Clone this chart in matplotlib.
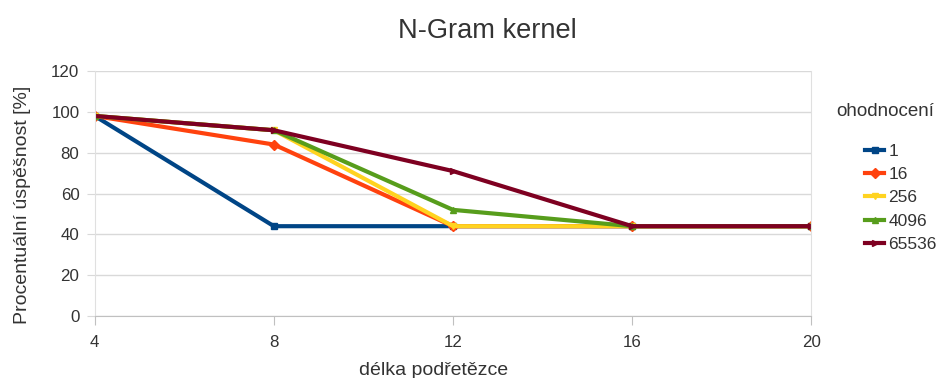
import matplotlib
matplotlib.use("Agg")
import matplotlib.pyplot as plt

plt.rcParams['font.family'] = ['Liberation Sans', 'DejaVu Sans']

# délka podřetězce
x_vals = [4, 8, 12, 16, 20]
# procentuální úspěšnost pro jednotlivá ohodnocení
s_1 = [98, 44, 44, 44, 44]
s_16 = [98, 84, 44, 44, 44]
s_256 = [98, 91, 44, 44, 44]
s_4096 = [98, 91, 52, 44, 44]
s_65536 = [98, 91, 71, 44, 44]

labels = ['1', '16', '256', '4096', '65536']
series = [s_1, s_16, s_256, s_4096, s_65536]
colors = ['#004586', '#ff420e', '#ffd320', '#579d1c', '#7e0021']
markers = ['s', 'D', 'v', '^', '>']

fig = plt.figure(figsize=(9.38, 3.78), dpi=100)
ax = fig.add_axes([0.101, 0.164, 0.764, 0.648])

for ys, lab, c, m in zip(series, labels, colors, markers):
    ax.plot(x_vals, ys, color=c, lw=3, marker=m, markersize=5,
            markeredgecolor=c, label=lab)

ax.set_xlim(4, 20)
ax.set_ylim(0, 120)
ax.set_xticks(x_vals)
ax.set_yticks(range(0, 121, 20))
ax.grid(axis='y', color='#d9d9d9', lw=1)
ax.set_axisbelow(True)
ax.spines['top'].set_visible(False)
for s in ['left', 'right']:
    ax.spines[s].set_color('#e0e0e0')
ax.spines['bottom'].set_color('#c0c0c0')
ax.tick_params(axis='y', length=6, color='#d9d9d9', labelsize=12.2, pad=5, labelcolor='#333333')
ax.tick_params(axis='x', length=6.5, color='#c0c0c0', labelsize=12.2, pad=7, labelcolor='#333333')

ax.set_xlabel('délka podřetězce', fontsize=14, color='#333333')
ax.xaxis.set_label_coords(0.473, -0.188)
ax.set_ylabel('Procentuální úspěšnost [%]', fontsize=14, color='#333333')
ax.yaxis.label.set_va('center')
ax.yaxis.set_label_coords(-0.101, 0.453)
fig.suptitle('N-Gram kernel', fontsize=19.6, y=0.917, x=0.52, va='center', color='#333333')

fig.text(0.9435, 0.704, 'ohodnocení', fontsize=13.5, ha='center', va='center', color='#333333')
leg = ax.legend(loc='upper left', bbox_to_anchor=(865 / 938, 0.619),
                bbox_transform=fig.transFigure, frameon=False, fontsize=12.5,
                borderpad=0, borderaxespad=0,
                handlelength=1.1, handletextpad=0.25, labelspacing=0.46)
for t in leg.get_texts():
    t.set_color('#333333')

fig.savefig('out.png', dpi=100)
